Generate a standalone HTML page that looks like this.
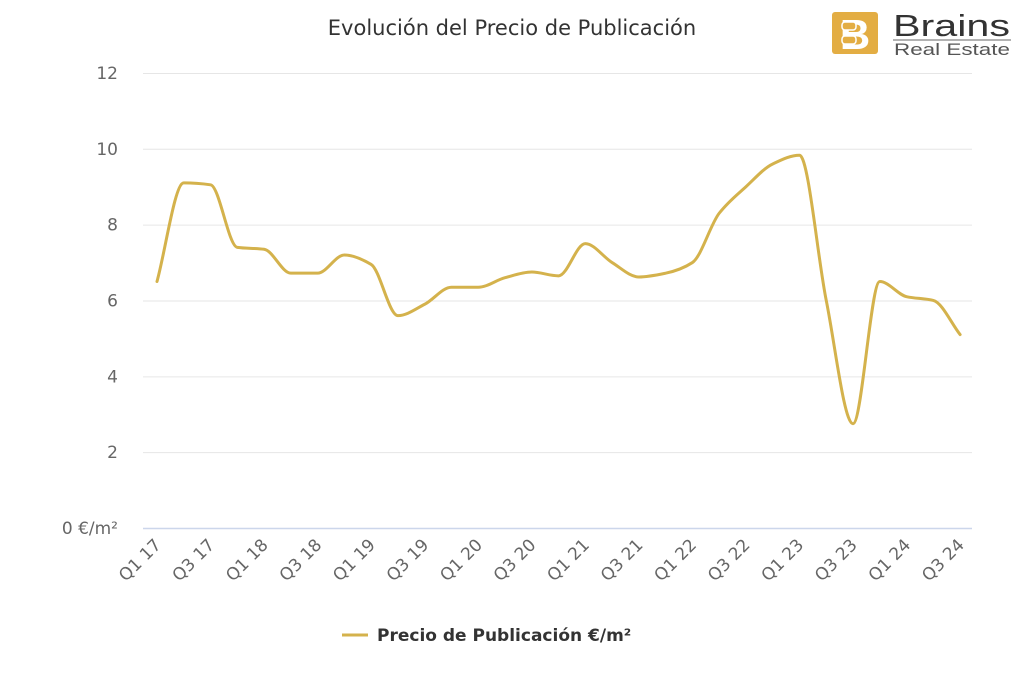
<!DOCTYPE html>
<html><head><meta charset="utf-8"><style>
html,body{margin:0;padding:0;background:#fff;}
svg{display:block;font-family:"DejaVu Sans","Liberation Sans",sans-serif;}
</style></head><body>
<svg id="s" width="1024" height="683" viewBox="0 0 1024 683" xmlns="http://www.w3.org/2000/svg">
<rect width="1024" height="683" fill="#fff"/>
<text x="512" y="35" text-anchor="middle" font-size="21" fill="#333">Evolución del Precio de Publicación</text>
<rect x="832" y="12" width="46" height="42" rx="3" fill="#e3ad43"/>
<text x="855" y="49" text-anchor="middle" font-size="42" font-weight="bold" fill="#fff" font-family="Liberation Sans,sans-serif">B</text>
<rect x="842" y="22" width="14" height="8" rx="3" fill="#e3ad43" stroke="#fff" stroke-width="1.5"/>
<rect x="842" y="36" width="14" height="8" rx="3" fill="#e3ad43" stroke="#fff" stroke-width="1.5"/>
<text x="893" y="36" font-size="31" fill="#333" font-family="Liberation Sans,sans-serif" textLength="117" lengthAdjust="spacingAndGlyphs">Brains</text>
<line x1="893" y1="40" x2="1011" y2="40" stroke="#666" stroke-width="1"/>
<text x="894" y="55" font-size="17" fill="#555" font-family="Liberation Sans,sans-serif" textLength="116" lengthAdjust="spacingAndGlyphs">Real Estate</text>
<g id="grid" stroke="#e6e6e6" stroke-width="1"></g>
<line x1="143" y1="528.5" x2="972" y2="528.5" stroke="#ccd6eb" stroke-width="1.5"/>
<g id="ylab" font-size="17" fill="#666" text-anchor="end"></g>
<g id="xlab" font-size="17" fill="#666" text-anchor="end"></g>
<path id="line" fill="none" stroke="#d4b24c" stroke-width="3" stroke-linejoin="round" stroke-linecap="round"/>
<line x1="342" y1="635" x2="368" y2="635" stroke="#d4b24c" stroke-width="3"/>
<text x="377" y="641" font-size="17" font-weight="bold" fill="#333">Precio de Publicación €/m²</text>
</svg>
<script>
var ns="http://www.w3.org/2000/svg";
function Y(v){return 528-v*37.92;}
var g=document.getElementById('grid'),yl=document.getElementById('ylab');
for(var v=0;v<=12;v+=2){
 if(v>0){var l=document.createElementNS(ns,'line');l.setAttribute('x1',143);l.setAttribute('x2',972);l.setAttribute('y1',Y(v)+.5);l.setAttribute('y2',Y(v)+.5);g.appendChild(l);}
 var t=document.createElementNS(ns,'text');t.setAttribute('x',118);t.setAttribute('y',Y(v)+6);t.textContent=v==0?'0 €/m²':v;yl.appendChild(t);
}
var d=[6.5,9.1,9.05,7.4,7.35,6.72,6.72,7.2,6.95,5.6,5.9,6.35,6.35,6.6,6.75,6.65,7.5,7.0,6.62,6.72,7.0,8.3,9.0,9.6,9.83,6.0,2.75,6.5,6.1,6.0,5.1];
var X=function(i){return 157+i*26.77;};
var n=d.length,h=26.77,py=d.map(Y);
var del=[],m=[];
for(var i=0;i<n-1;i++)del.push((py[i+1]-py[i])/h);
m[0]=del[0];m[n-1]=del[n-2];
for(var i=1;i<n-1;i++){ if(del[i-1]*del[i]<=0)m[i]=0; else m[i]=2/(1/del[i-1]+1/del[i]); }
var s='M'+X(0)+','+py[0];
for(var i=0;i<n-1;i++){
 s+=' C'+(X(i)+h/3)+','+(py[i]+m[i]*h/3)+' '+(X(i+1)-h/3)+','+(py[i+1]-m[i+1]*h/3)+' '+X(i+1)+','+py[i+1];
}
document.getElementById('line').setAttribute('d',s);
var xl=document.getElementById('xlab');
for(var i=0;i<31;i+=2){
 var q=(i%4==0)?'Q1':'Q3',y=17+Math.floor(i/4);
 var t=document.createElementNS(ns,'text');var x=X(i)+5,yy=546;
 t.setAttribute('x',x);t.setAttribute('y',yy);t.setAttribute('transform','rotate(-45 '+x+' '+yy+')');
 t.textContent=q+' '+y;xl.appendChild(t);
}
</script>
</body></html>
